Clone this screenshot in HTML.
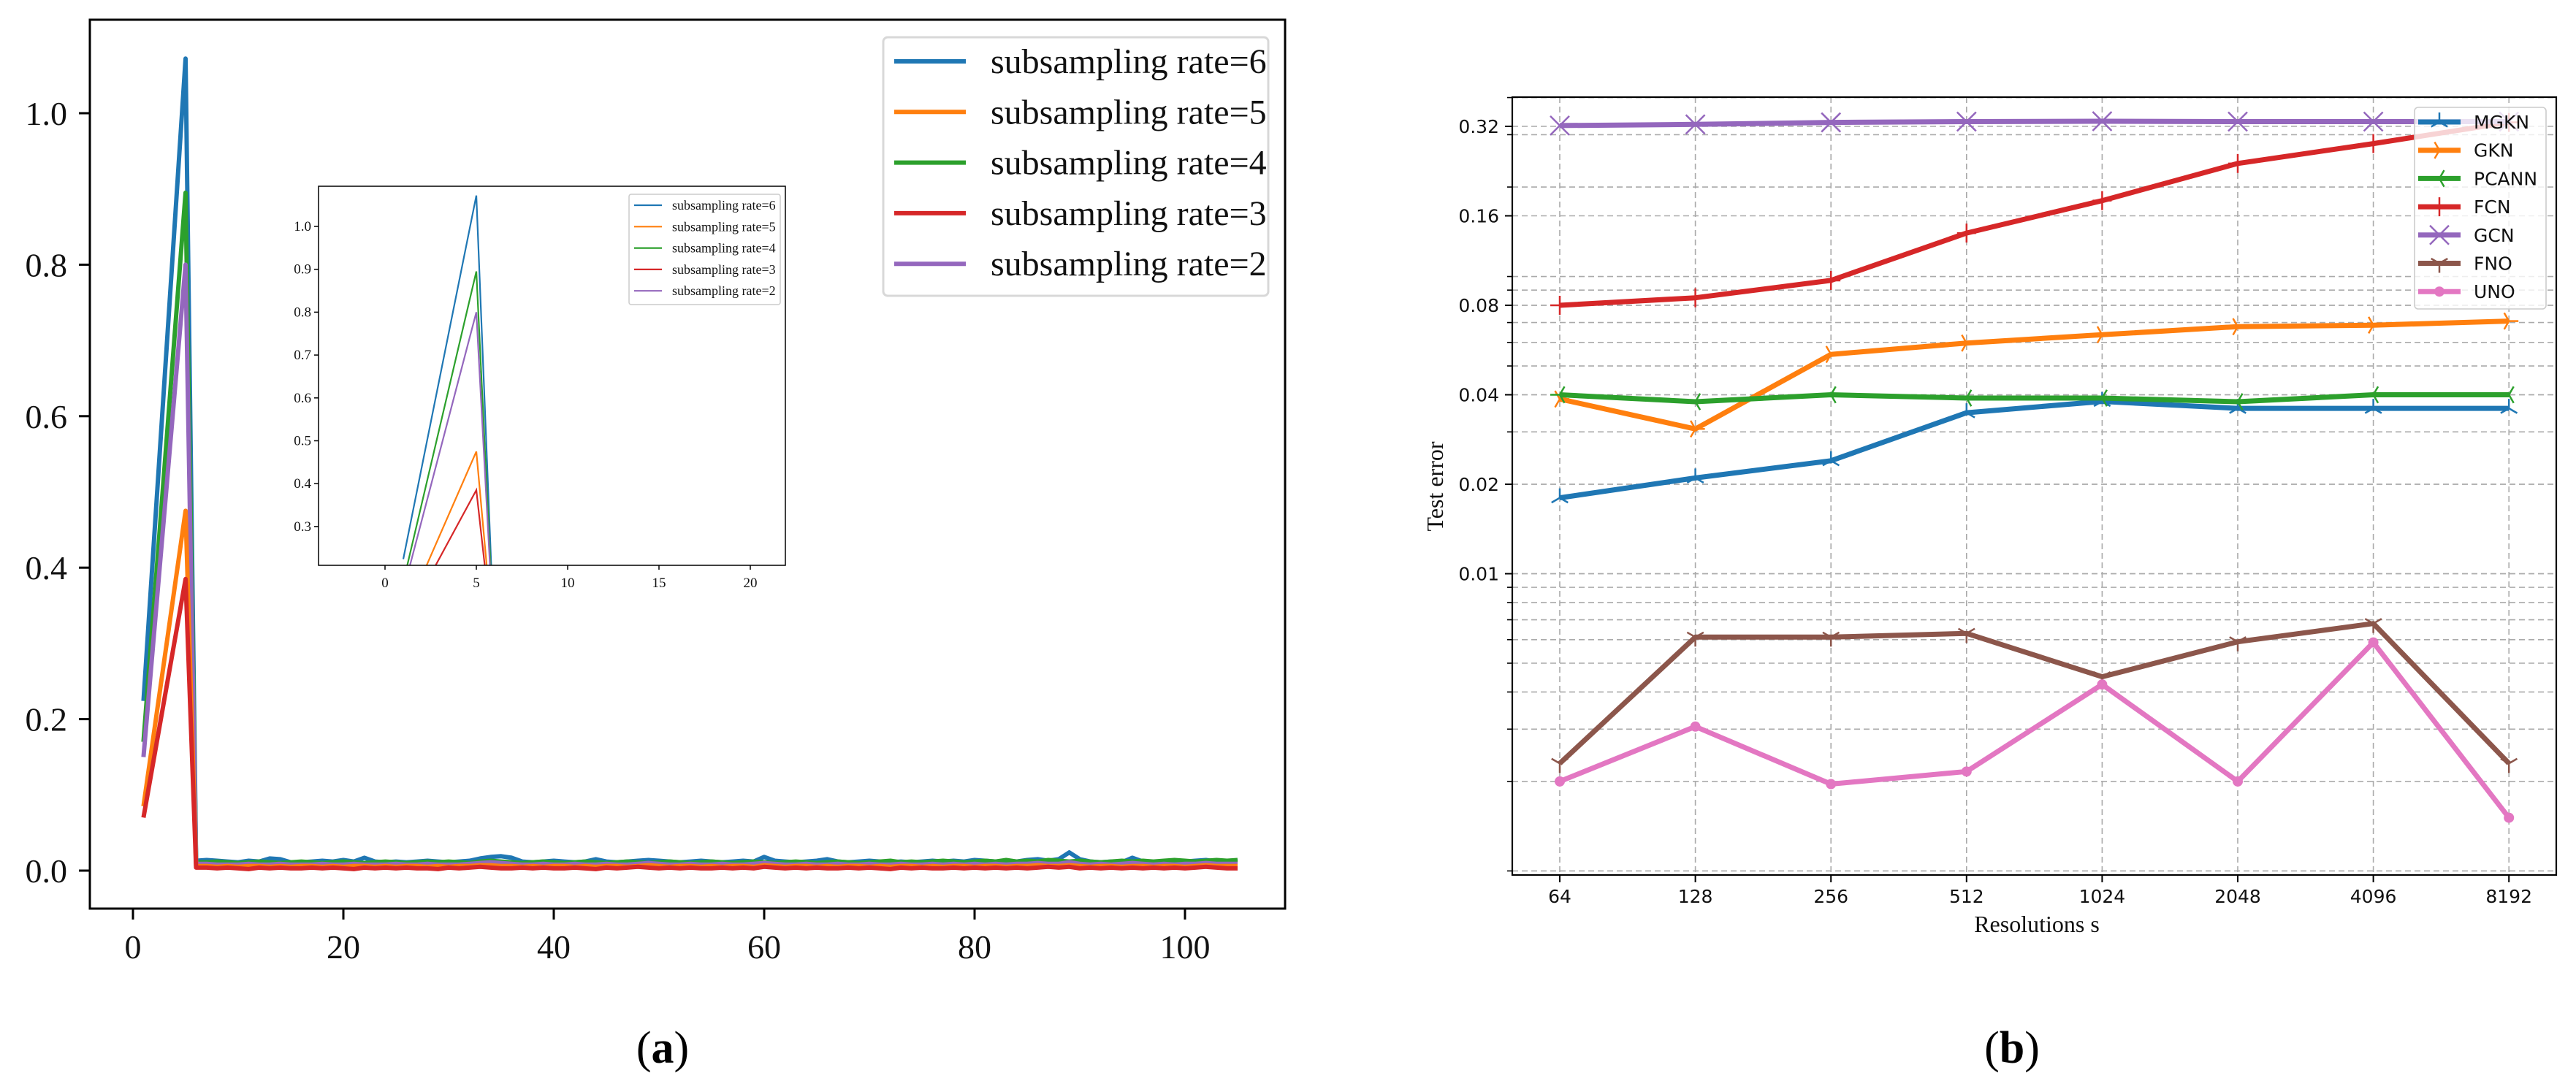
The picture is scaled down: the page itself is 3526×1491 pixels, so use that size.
<!DOCTYPE html>
<html><head><meta charset="utf-8"><style>
html,body{margin:0;padding:0;background:#fff;}
svg{display:block;}
</style></head><body>
<svg id="fig" width="3526" height="1491" xmlns="http://www.w3.org/2000/svg"></svg>
<script>
// ---------- Chart (a) data ----------
const epochsHead = [1, 5];
const tailStart = 6;
const rate6Head = [0.224, 1.072];
const rate5Head = [0.085, 0.475];
const rate4Head = [0.17, 0.895];
const rate3Head = [0.07, 0.385];
const rate2Head = [0.15, 0.80];
const rate6Tail = [0.013,0.014,0.013,0.012,0.011,0.013,0.012,0.016,0.015,0.011,0.011,0.012,0.013,0.012,0.014,0.012,0.017,0.012,0.011,0.012,0.011,0.012,0.013,0.012,0.011,0.012,0.013,0.016,0.018,0.019,0.017,0.012,0.011,0.012,0.013,0.012,0.011,0.012,0.015,0.012,0.011,0.012,0.013,0.014,0.013,0.012,0.011,0.012,0.013,0.012,0.011,0.012,0.013,0.012,0.018,0.013,0.012,0.011,0.012,0.013,0.015,0.012,0.011,0.012,0.013,0.012,0.011,0.012,0.011,0.012,0.013,0.012,0.013,0.012,0.014,0.013,0.012,0.013,0.012,0.014,0.015,0.013,0.015,0.024,0.015,0.012,0.011,0.012,0.011,0.017,0.012,0.011,0.012,0.013,0.012,0.013,0.014,0.012,0.013,0.012];
const rate4Tail = [0.011,0.011,0.012,0.011,0.010,0.011,0.012,0.011,0.010,0.011,0.012,0.011,0.010,0.011,0.012,0.011,0.010,0.011,0.012,0.011,0.010,0.011,0.012,0.011,0.012,0.011,0.010,0.012,0.013,0.012,0.011,0.010,0.011,0.012,0.011,0.010,0.011,0.012,0.011,0.010,0.011,0.012,0.011,0.010,0.011,0.012,0.011,0.010,0.011,0.012,0.011,0.010,0.011,0.012,0.011,0.010,0.011,0.012,0.011,0.010,0.011,0.012,0.011,0.010,0.011,0.012,0.013,0.011,0.012,0.011,0.012,0.013,0.012,0.011,0.012,0.013,0.012,0.014,0.012,0.013,0.012,0.014,0.013,0.012,0.013,0.012,0.011,0.012,0.013,0.012,0.013,0.012,0.013,0.014,0.013,0.012,0.013,0.014,0.013,0.014];
const rate2Tail = [0.009,0.009,0.008,0.008,0.008,0.009,0.008,0.008,0.009,0.008,0.008,0.008,0.009,0.008,0.008,0.009,0.008,0.008,0.008,0.009,0.008,0.008,0.009,0.008,0.008,0.008,0.009,0.010,0.011,0.010,0.009,0.008,0.008,0.009,0.008,0.008,0.009,0.008,0.008,0.009,0.008,0.008,0.009,0.010,0.009,0.008,0.008,0.009,0.008,0.008,0.009,0.008,0.008,0.009,0.010,0.009,0.008,0.008,0.009,0.008,0.008,0.009,0.008,0.008,0.009,0.008,0.008,0.009,0.008,0.008,0.009,0.008,0.009,0.008,0.009,0.008,0.009,0.008,0.009,0.009,0.010,0.009,0.009,0.011,0.009,0.008,0.009,0.008,0.009,0.010,0.009,0.008,0.009,0.008,0.009,0.009,0.010,0.009,0.009,0.009];
const rate5Tail = [0.006,0.006,0.005,0.006,0.005,0.006,0.006,0.005,0.006,0.005,0.006,0.006,0.005,0.006,0.005,0.006,0.006,0.005,0.006,0.005,0.006,0.006,0.005,0.006,0.005,0.006,0.006,0.007,0.007,0.006,0.006,0.005,0.006,0.005,0.006,0.006,0.005,0.006,0.005,0.006,0.006,0.005,0.006,0.007,0.006,0.005,0.006,0.006,0.005,0.006,0.005,0.006,0.006,0.005,0.007,0.006,0.005,0.006,0.006,0.005,0.006,0.005,0.006,0.006,0.005,0.006,0.005,0.006,0.006,0.005,0.006,0.005,0.006,0.006,0.005,0.006,0.006,0.005,0.006,0.006,0.007,0.006,0.006,0.007,0.006,0.005,0.006,0.006,0.005,0.006,0.006,0.005,0.006,0.006,0.005,0.006,0.007,0.006,0.006,0.006];
const rate3Tail = [0.004,0.004,0.003,0.004,0.003,0.002,0.004,0.003,0.004,0.003,0.003,0.004,0.003,0.004,0.003,0.002,0.004,0.003,0.004,0.003,0.004,0.003,0.003,0.002,0.004,0.003,0.004,0.005,0.004,0.003,0.003,0.004,0.003,0.004,0.003,0.003,0.004,0.003,0.002,0.004,0.003,0.004,0.005,0.004,0.003,0.004,0.003,0.004,0.003,0.003,0.004,0.003,0.004,0.003,0.005,0.004,0.003,0.004,0.003,0.004,0.003,0.003,0.004,0.003,0.004,0.003,0.002,0.004,0.003,0.004,0.003,0.003,0.004,0.003,0.004,0.003,0.004,0.003,0.004,0.003,0.004,0.005,0.004,0.005,0.003,0.004,0.003,0.004,0.003,0.004,0.003,0.004,0.003,0.004,0.003,0.004,0.005,0.004,0.003,0.003];
const aXTicks = [0, 20, 40, 60, 80, 100];
const aYTicks = [0.0, 0.2, 0.4, 0.6, 0.8, 1.0];
const insetXTicks = [0, 5, 10, 15, 20];
const insetYTicks = [0.3, 0.4, 0.5, 0.6, 0.7, 0.8, 0.9, 1.0];
const aLabels = ["subsampling rate=6","subsampling rate=5","subsampling rate=4","subsampling rate=3","subsampling rate=2"];

// ---------- Chart (b) data ----------
const resolutions = ["64","128","256","512","1024","2048","4096","8192"];
const mgkn  = [0.0180,0.0210,0.0240,0.0348,0.0380,0.0360,0.0360,0.0360];
const gkn   = [0.0387,0.0307,0.0547,0.0597,0.0637,0.0678,0.0686,0.0708];
const pcann = [0.0400,0.0379,0.0400,0.0390,0.0390,0.0379,0.0400,0.0400];
const fcn   = [0.0800,0.0848,0.0970,0.1400,0.1800,0.2400,0.2800,0.3300];
const gcn   = [0.322,0.325,0.330,0.332,0.333,0.332,0.332,0.332];
const fno   = [0.0023,0.00612,0.00612,0.0063,0.0045,0.0059,0.0068,0.0023];
const uno   = [0.0020,0.00306,0.00196,0.00216,0.00424,0.0020,0.00587,0.00151];
const bYTicks = [0.01, 0.02, 0.04, 0.08, 0.16, 0.32];
const bYTickLabels = ["0.01","0.02","0.04","0.08","0.16","0.32"];
const bNames = ["MGKN","GKN","PCANN","FCN","GCN","FNO","UNO"];

const NS = "http://www.w3.org/2000/svg";
const svg = document.getElementById('fig');
function mk(tag, attrs, parent){ const e=document.createElementNS(NS,tag); for(const k in attrs) e.setAttribute(k,attrs[k]); (parent||svg).appendChild(e); return e; }
function txt(s, attrs, parent){ const e=mk('text',attrs,parent); e.textContent=s; return e; }
const C = {blue:'#1f77b4',orange:'#ff7f0e',green:'#2ca02c',red:'#d62728',purple:'#9467bd',brown:'#8c564b',pink:'#e377c2'};

// ===== Chart (a) =====
const aL=123,aT=27,aR=1759,aB=1244;
const ax = v => 182 + v*14.4;
const ay = v => 1192 - v*1037;
const gA = mk('g',{});


function seriesA(head, tail){ const pts=[]; head.forEach((v,i)=>pts.push([epochsHead[i],v])); tail.forEach((v,i)=>pts.push([tailStart+i,v])); return pts; }
const aSeries = [
  {name:'rate-6', pts:seriesA(rate6Head,rate6Tail), c:C.blue},
  {name:'rate-4', pts:seriesA(rate4Head,rate4Tail), c:C.green},
  {name:'rate-2', pts:seriesA(rate2Head,rate2Tail), c:C.purple},
  {name:'rate-5', pts:seriesA(rate5Head,rate5Tail), c:C.orange},
  {name:'rate-3', pts:seriesA(rate3Head,rate3Tail), c:C.red},
];
aSeries.forEach(s=>{
  const p=mk('polyline',{points:s.pts.map(q=>ax(q[0]).toFixed(1)+','+ay(q[1]).toFixed(1)).join(' '),fill:'none',stroke:s.c,'stroke-width':6,'stroke-linejoin':'round'},gA);
  
  
});
const frameA = mk('rect',{x:aL,y:aT,width:aR-aL,height:aB-aT,fill:'none',stroke:'#000','stroke-width':3},gA);


aXTicks.forEach(t=>{
  mk('line',{x1:ax(t),x2:ax(t),y1:aB,y2:aB+15,stroke:'#000','stroke-width':3},gA);
  const l=txt(String(t),{x:ax(t),y:1312,'font-family':'Liberation Serif, serif','font-size':46,'text-anchor':'middle',fill:'#111'},gA);
  
  
});
aYTicks.forEach(t=>{
  mk('line',{x1:aL-15,x2:aL,y1:ay(t),y2:ay(t),stroke:'#000','stroke-width':3},gA);
  const l=txt(t.toFixed(1),{x:92,y:ay(t)+16,'font-family':'Liberation Serif, serif','font-size':46,'text-anchor':'end',fill:'#111'},gA);
  
  
});
// legend a
const legA = mk('g',{},gA);


mk('rect',{x:1209,y:51,width:527,height:354,rx:6,fill:'#fff',stroke:'#d8d8d8','stroke-width':3},legA);
const aCols=[C.blue,C.orange,C.green,C.red,C.purple];
aLabels.forEach((s,i)=>{
  const y=84+i*69.3;
  const g=mk('g',{},legA);
  
  
  mk('line',{x1:1224,x2:1322,y1:y,y2:y,stroke:aCols[i],'stroke-width':6},g);
  txt(s,{x:1356,y:y+16,'font-family':'Liberation Serif, serif','font-size':48,fill:'#111'},g);
});
// inset
const iL=436,iT=255,iR=1075,iB=774;
const ix = v => 527 + v*25;
const iy = v => 310 + (1.0-v)*587;
const gI = mk('g',{},gA);


mk('rect',{x:iL,y:iT,width:iR-iL,height:iB-iT,fill:'#fff'},gI);
mk('clipPath',{id:'iclip'},gI).appendChild(Object.assign(document.createElementNS(NS,'rect'),{}));
document.querySelector('#iclip rect').setAttribute('x',iL);
document.querySelector('#iclip rect').setAttribute('y',iT);
document.querySelector('#iclip rect').setAttribute('width',iR-iL);
document.querySelector('#iclip rect').setAttribute('height',iB-iT);
const gIL = mk('g',{'clip-path':'url(#iclip)'},gI);
aSeries.forEach(s=>{
  const p=mk('polyline',{points:s.pts.map(q=>ix(q[0]).toFixed(1)+','+iy(q[1]).toFixed(1)).join(' '),fill:'none',stroke:s.c,'stroke-width':2.2},gIL);
  
  
});
mk('rect',{x:iL,y:iT,width:iR-iL,height:iB-iT,fill:'none',stroke:'#000','stroke-width':1.5},gI);
insetXTicks.forEach(t=>{
  mk('line',{x1:ix(t),x2:ix(t),y1:iB,y2:iB+6,stroke:'#000','stroke-width':1.5},gI);
  txt(String(t),{x:ix(t),y:iB+30,'font-family':'Liberation Serif, serif','font-size':19,'text-anchor':'middle',fill:'#111'},gI);
});
insetYTicks.forEach(t=>{
  mk('line',{x1:iL-6,x2:iL,y1:iy(t),y2:iy(t),stroke:'#000','stroke-width':1.5},gI);
  txt(t.toFixed(1),{x:iL-10,y:iy(t)+6,'font-family':'Liberation Serif, serif','font-size':19,'text-anchor':'end',fill:'#111'},gI);
});
mk('rect',{x:861,y:266,width:207,height:151,rx:3,fill:'#fff',stroke:'#ccc','stroke-width':1.5},gI);
aLabels.forEach((s,i)=>{
  const y=281+i*29.3;
  const g=mk('g',{},gI);
  
  
  mk('line',{x1:868,x2:906,y1:y,y2:y,stroke:aCols[i],'stroke-width':2.2},g);
  txt(s,{x:920,y:y+6,'font-family':'Liberation Serif, serif','font-size':18,fill:'#111'},g);
});
const capA=mk('text',{x:907,y:1455,'font-family':'Liberation Serif, serif','font-size':62,'text-anchor':'middle',fill:'#000'});
capA.innerHTML='(<tspan font-weight="bold">a</tspan>)';



// ===== Chart (b) =====
const bL=2070,bT=133,bR=3499,bB=1198;
const bx = i => 2135 + i*185.6;
const by = v => 173 + Math.log2(0.32/v)*122.5;
const gB = mk('g',{});


// minor gridlines
const minors=[];
[0.001,0.01,0.1].forEach(d=>{for(let k=1;k<=9;k++){const v=k*d; if(v<=0.4 && by(v)<=bB && by(v)>=bT) minors.push(v);}});
minors.forEach(v=>{
  mk('line',{x1:bL,x2:bR,y1:by(v),y2:by(v),stroke:'#aaa','stroke-width':1.6,'stroke-dasharray':'8,5'},gB);
  mk('line',{x1:bL-7,x2:bL,y1:by(v),y2:by(v),stroke:'#000','stroke-width':1.6},gB);
});
bYTicks.forEach((t,i)=>{
  mk('line',{x1:bL,x2:bR,y1:by(t),y2:by(t),stroke:'#aaa','stroke-width':1.6,'stroke-dasharray':'8,5'},gB);
  mk('line',{x1:bL-10,x2:bL,y1:by(t),y2:by(t),stroke:'#000','stroke-width':2},gB);
  const l=txt(bYTickLabels[i],{x:2052,y:by(t)+9,'font-family':'DejaVu Sans, sans-serif','font-size':25,'text-anchor':'end',fill:'#111'},gB);
  
  
});
resolutions.forEach((r,i)=>{
  mk('line',{x1:bx(i),x2:bx(i),y1:bT,y2:bB,stroke:'#aaa','stroke-width':1.6,'stroke-dasharray':'8,5'},gB);
  mk('line',{x1:bx(i),x2:bx(i),y1:bB,y2:bB+10,stroke:'#000','stroke-width':2},gB);
  const l=txt(r,{x:bx(i),y:1236,'font-family':'DejaVu Sans, sans-serif','font-size':25,'text-anchor':'middle',fill:'#111'},gB);
  
  
});
function marker(type,x,y,c,g){
  const s=13, a={stroke:c,'stroke-width':2.5,fill:'none'};
  if(type==='plus'){mk('line',Object.assign({x1:x-s,x2:x+s,y1:y,y2:y},a),g);mk('line',Object.assign({x1:x,x2:x,y1:y-s,y2:y+s},a),g);}
  else if(type==='x'){mk('line',Object.assign({x1:x-s,x2:x+s,y1:y-s,y2:y+s},a),g);mk('line',Object.assign({x1:x-s,x2:x+s,y1:y+s,y2:y-s},a),g);}
  else if(type==='circle'){mk('circle',{cx:x,cy:y,r:7,fill:c},g);}
  else { const ang={up:[-90,30,150],down:[90,-30,210],left:[180,-60,60],right:[0,120,240]}[type];
    ang.forEach(d=>{const r=d*Math.PI/180; mk('line',Object.assign({x1:x,y1:y,x2:x+s*Math.cos(r),y2:y+s*Math.sin(r)},a),g);}); }
}
const bSeries=[
  {n:'MGKN',d:mgkn,c:C.blue,m:'up'},
  {n:'GKN',d:gkn,c:C.orange,m:'right'},
  {n:'PCANN',d:pcann,c:C.green,m:'left'},
  {n:'FCN',d:fcn,c:C.red,m:'plus'},
  {n:'GCN',d:gcn,c:C.purple,m:'x'},
  {n:'FNO',d:fno,c:C.brown,m:'down'},
  {n:'UNO',d:uno,c:C.pink,m:'circle'},
];
bSeries.forEach(s=>{
  const g=mk('g',{},gB);
  
  
  mk('polyline',{points:s.d.map((v,i)=>bx(i).toFixed(1)+','+by(v).toFixed(1)).join(' '),fill:'none',stroke:s.c,'stroke-width':7,'stroke-linejoin':'round'},g);
  s.d.forEach((v,i)=>marker(s.m,bx(i),by(v),s.c,g));
});
const frameB=mk('rect',{x:bL,y:bT,width:bR-bL,height:bB-bT,fill:'none',stroke:'#000','stroke-width':2.2},gB);


// legend b
const legB=mk('g',{},gB);


mk('rect',{x:3305,y:147,width:180,height:276,rx:5,fill:'#fff','fill-opacity':0.8,stroke:'#ccc','stroke-width':1.6},legB);
bSeries.forEach((s,i)=>{
  const y=167+i*38.7;
  const g=mk('g',{},legB);
  
  
  mk('line',{x1:3310,x2:3368,y1:y,y2:y,stroke:s.c,'stroke-width':7},g);
  marker(s.m,3339,y,s.c,g);
  txt(s.n,{x:3386,y:y+9,'font-family':'DejaVu Sans, sans-serif','font-size':25,fill:'#111'},g);
});
const ylab=txt('Test error',{x:0,y:0,transform:'translate(1975,666) rotate(-90)','font-family':'Liberation Serif, serif','font-size':32,'text-anchor':'middle',fill:'#111'},gB);


const xlab=txt('Resolutions s',{x:2788,y:1276,'font-family':'Liberation Serif, serif','font-size':32,'text-anchor':'middle',fill:'#111'},gB);


const capB=mk('text',{x:2754,y:1455,'font-family':'Liberation Serif, serif','font-size':62,'text-anchor':'middle',fill:'#000'});
capB.innerHTML='(<tspan font-weight="bold">b</tspan>)';


</script>
</body></html>
